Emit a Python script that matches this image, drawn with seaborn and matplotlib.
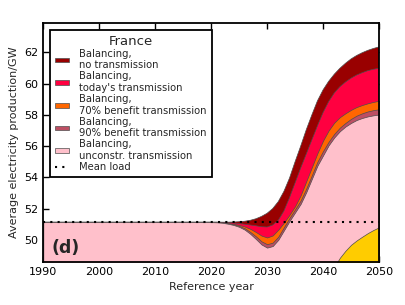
import numpy as np
import pandas as pd
import matplotlib
matplotlib.use('Agg')
import matplotlib.pyplot as plt
import seaborn as sns

# Data (GW); flat before 2020
years = [1990, 2000, 2010] + list(range(2020, 2051))
no_transmission = [51.13, 51.13, 51.13,
                   51.13, 51.13, 51.13, 51.13, 51.14, 51.16, 51.19, 51.25, 51.35, 51.5,
                   51.7, 52.0, 52.45, 53.1, 53.95, 55.0, 56.0, 57.05, 58.0, 58.9,
                   59.6, 60.15, 60.6, 60.98, 61.3, 61.58, 61.8, 61.98, 62.13, 62.25, 62.35]
todays_transmission = [51.13, 51.13, 51.13,
                       51.13, 51.13, 51.12, 51.1, 51.08, 51.04, 51.0, 50.95, 50.9, 50.84,
                       50.82, 50.95, 51.25, 51.85, 52.7, 53.65, 54.6, 55.5, 56.4, 57.3,
                       58.15, 58.85, 59.4, 59.8, 60.1, 60.35, 60.55, 60.7, 60.83, 60.92, 60.98]
benefit_70 = [51.13, 51.13, 51.13,
              51.13, 51.13, 51.11, 51.07, 51.02, 50.95, 50.85, 50.7, 50.5, 50.27,
              50.15, 50.28, 50.65, 51.1, 51.6, 52.15, 52.85, 53.75, 54.65, 55.55,
              56.35, 57.0, 57.5, 57.85, 58.1, 58.32, 58.5, 58.63, 58.74, 58.83, 58.9]
benefit_90 = [51.13, 51.13, 51.13,
              51.13, 51.13, 51.11, 51.06, 50.99, 50.89, 50.74, 50.5, 50.22, 49.9,
              49.72, 49.82, 50.2, 50.8, 51.4, 51.95, 52.52, 53.28, 54.13, 55.0,
              55.68, 56.28, 56.78, 57.18, 57.48, 57.74, 57.95, 58.1, 58.22, 58.3, 58.36]
unconstrained = [51.13, 51.13, 51.13,
                 51.13, 51.12, 51.09, 51.03, 50.95, 50.83, 50.65, 50.38, 50.05, 49.7,
                 49.5, 49.6, 50.0, 50.6, 51.2, 51.75, 52.3, 53.05, 53.9, 54.75,
                 55.4, 56.05, 56.55, 56.95, 57.25, 57.48, 57.67, 57.8, 57.9, 57.97, 58.02]
mean_load = [51.13] * len(years)

other_years = list(range(2041, 2051))
other = [47.6, 48.25, 48.85, 49.3, 49.68, 49.96, 50.2, 50.43, 50.63, 50.8]

labels = ['Balancing,\nno transmission',
          "Balancing,\ntoday's transmission",
          'Balancing,\n70% benefit transmission',
          'Balancing,\n90% benefit transmission',
          'Balancing,\nunconstr. transmission']
colors = ['#990000', '#ff0040', '#ff6600', '#bd4f63', '#ffc0cb']
series = [no_transmission, todays_transmission, benefit_70, benefit_90, unconstrained]

sns.set_style('ticks')
plt.rcParams['font.family'] = ['DejaVu Sans']

fig, ax = plt.subplots(figsize=(4.06, 3.05), dpi=100)
fig.subplots_adjust(left=0.1067, right=0.9335, bottom=0.142, top=0.9256)

base = 40
for vals, col, lab in zip(series, colors, labels):
    ax.fill_between(years, base, vals, facecolor=col, edgecolor='0.3',
                    linewidth=0.5, label=lab)
ax.fill_between(other_years, base, other, facecolor='#ffcc00', edgecolor='0.3',
                linewidth=0.5)

df_load = pd.DataFrame({'year': years, 'load': mean_load})
sns.lineplot(data=df_load, x='year', y='load', ax=ax, color='black',
             linewidth=1.5, dashes=False, label='Mean load')
ax.lines[-1].set_dashes((1, 2.5))

ax.set_xlim(1990, 2050)
ax.set_ylim(48.6, 63.9)
ax.set_xticks(range(1990, 2051, 10))
ax.set_yticks(range(50, 63, 2))
ax.tick_params(direction='in', top=True, right=True, length=4, width=1,
               labelsize=8, colors='black')
for s in ax.spines.values():
    s.set_linewidth(1.3)
    s.set_color('black')
ax.set_xlabel('Reference year', fontsize=8)
ax.set_ylabel('Average electricity production/GW', fontsize=8)

ax.text(0.025, 0.038, '(d)', transform=ax.transAxes, fontsize=12.5,
        fontweight='bold', va='baseline', ha='left')

leg = ax.legend(loc='upper left', bbox_to_anchor=(0.02, 0.97), borderaxespad=0,
                fontsize=7.2, title='France', title_fontsize=9.5, fancybox=False,
                edgecolor='black', framealpha=1, handlelength=1.4,
                handleheight=0.35, handletextpad=1.0, labelspacing=0.1,
                borderpad=0.5)
leg.get_frame().set_linewidth(1.3)

fig.savefig('out.png', dpi=100)
